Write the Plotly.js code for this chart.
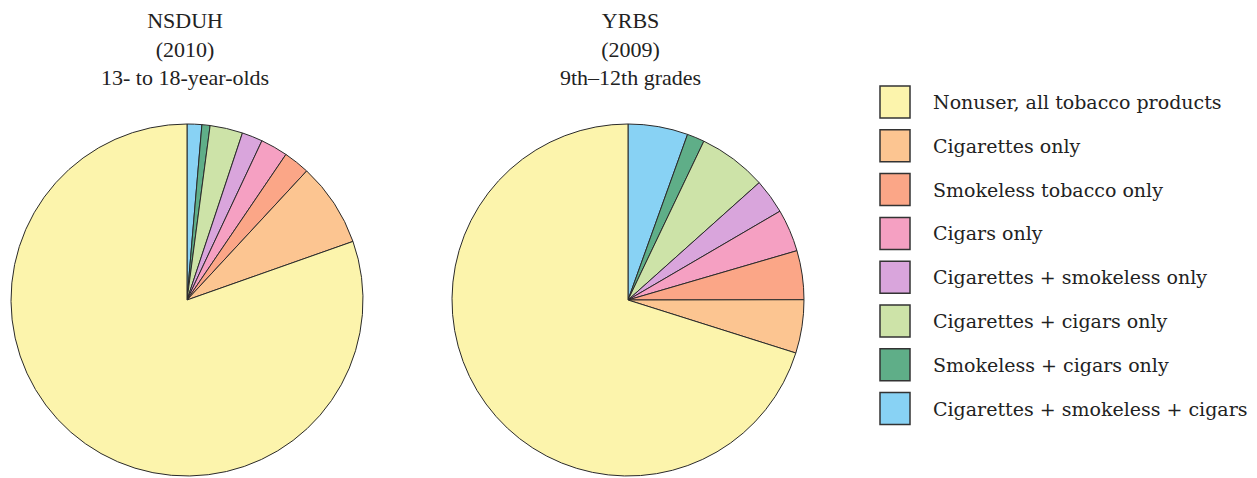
<!DOCTYPE html>
<html>
<head>
<meta charset="utf-8">
<script src="https://cdn.plot.ly/plotly-3.0.1.min.js"></script>
<style>html,body{margin:0;padding:0;background:#fff;}#chart{width:1257px;height:478px;}</style>
</head>
<body>
<div id="chart"></div>
<script>
// Categories (legend order)
const categories = [
  "Nonuser, all tobacco products",
  "Cigarettes only",
  "Smokeless tobacco only",
  "Cigars only",
  "Cigarettes + smokeless only",
  "Cigarettes + cigars only",
  "Smokeless + cigars only",
  "Cigarettes + smokeless + cigars"
];
// Percent values
const nsduhValues = [80.4, 7.7, 2.4, 2.5, 1.9, 3.0, 0.75, 1.35];
const yrbsValues  = [70.2, 4.9, 4.5, 3.9, 3.2, 6.3, 1.6, 5.5];
const colors = ["#FCF4AC", "#FCC591", "#FBA687", "#F5A0C2", "#D9A5DC", "#CDE3A8", "#5FAE88", "#88D2F4"];
const titles = [
  "NSDUH<br>(2010)<br>13- to 18-year-olds",
  "YRBS<br>(2009)<br>9th–12th grades"
];

const W = 1257, H = 478;
const serif = "Liberation Serif, DejaVu Serif, serif";
const legendFont = "DejaVu Serif, Liberation Serif, serif";

function rev(a) { return a.slice().reverse(); }

function pieTrace(values, cx, r) {
  return {
    type: "pie",
    labels: rev(categories),
    values: rev(values),
    sort: false,
    direction: "clockwise",
    rotation: 0,
    textinfo: "none",
    hoverinfo: "label+percent",
    showlegend: false,
    marker: { colors: rev(colors), line: { color: "#2a2a2a", width: 1 } },
    domain: {
      x: [(cx - r) / W, (cx + r) / W],
      y: [(H - 300 - r) / H, (H - 300 + r) / H]
    }
  };
}

const data = [pieTrace(nsduhValues, 187, 176), pieTrace(yrbsValues, 628, 176)];

const annotations = [
  { text: titles[0], x: 185 / W, y: 1 - 6 / H },
  { text: titles[1], x: 630 / W, y: 1 - 6 / H }
].map(a => Object.assign(a, {
  xref: "paper", yref: "paper", xanchor: "center", yanchor: "top",
  showarrow: false, align: "center",
  font: { family: serif, size: 22, color: "#222" }
}));

// Custom legend with large swatches
const shapes = [];
const rowTop = 86, rowStep = 43.8, boxW = 30, boxH = 32, boxX = 880;
categories.forEach((c, i) => {
  const y0 = rowTop + i * rowStep;
  shapes.push({
    type: "rect", xref: "paper", yref: "paper",
    x0: boxX / W, x1: (boxX + boxW) / W,
    y0: 1 - (y0 + boxH) / H, y1: 1 - y0 / H,
    fillcolor: colors[i], line: { color: "#333", width: 1.5 }
  });
  annotations.push({
    text: c, xref: "paper", yref: "paper",
    x: 931 / W, y: 1 - (y0 + boxH / 2) / H,
    xanchor: "left", yanchor: "middle", showarrow: false,
    font: { family: legendFont, size: 19, color: "#222" }
  });
});

const layout = {
  width: W, height: H,
  margin: { l: 0, r: 0, t: 0, b: 0 },
  paper_bgcolor: "#fff",
  showlegend: false,
  annotations: annotations,
  shapes: shapes
};

Plotly.newPlot("chart", data, layout, { displayModeBar: false, staticPlot: true });
</script>
</body>
</html>
